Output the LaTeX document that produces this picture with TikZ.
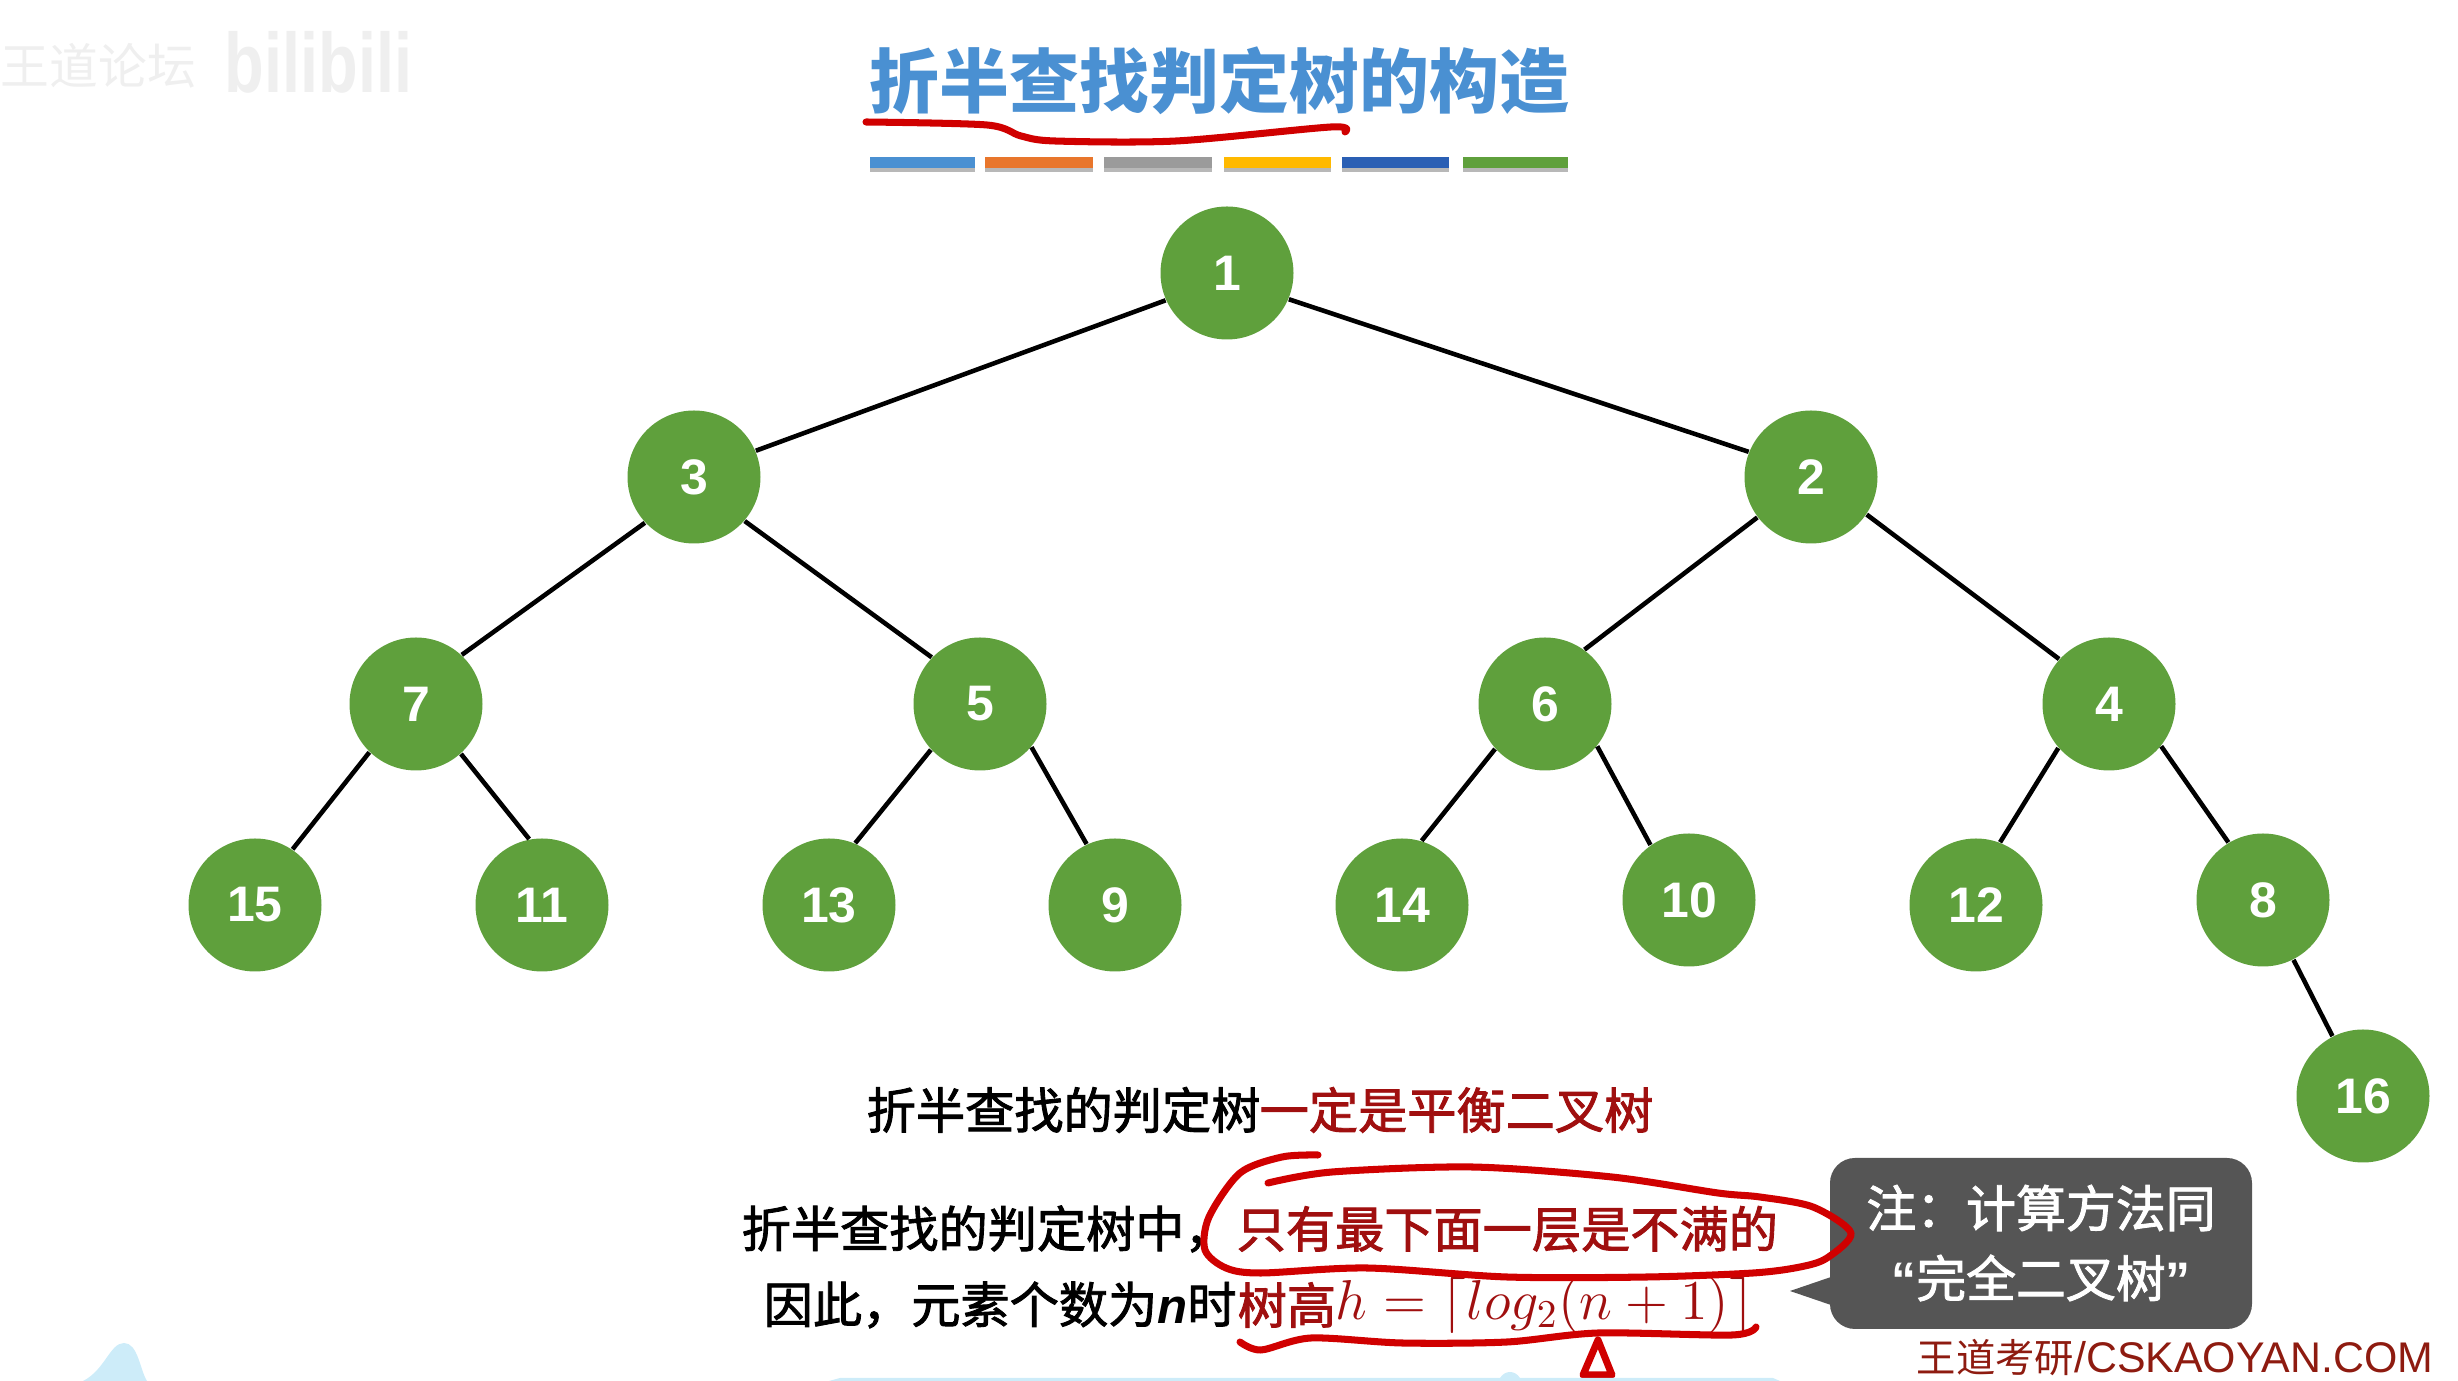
\documentclass[tikz,border=0pt]{standalone}
\usepackage{fix-cm}
\usepackage{amsmath}
\usepackage{fontspec}
\newfontfamily\cjk[FakeBold=1.8]{Noto Sans CJK SC}
\newfontfamily\cjkb{Noto Sans CJK SC}
\newfontfamily\latin{Liberation Sans}
\definecolor{treegreen}{HTML}{5FA03C}
\definecolor{titleblue}{HTML}{4A90D2}
\definecolor{barorange}{HTML}{E8762C}
\definecolor{bargray}{HTML}{9B9B9B}
\definecolor{baryellow}{HTML}{FFB900}
\definecolor{barblue}{HTML}{2A5FB4}
\definecolor{textred}{HTML}{A00F0F}
\definecolor{penred}{HTML}{D00000}
\definecolor{notegray}{HTML}{555555}
\definecolor{markred}{HTML}{8E1B10}
\definecolor{skyblue}{HTML}{CDECF9}
\definecolor{faintgray}{HTML}{EFEFEF}

\begin{document}
\begin{tikzpicture}
\useasboundingbox (0,0) rectangle (24.58,-13.81);
\begin{scope}
	\tikzstyle{every node}=[inner sep=0pt, align=center]
	\tikzstyle{elem}=[circle, fill=treegreen, text=white, minimum size=1.33cm, font=\latin\fontsize{14.2}{16}\selectfont\bfseries]
	\tikzstyle{link}=[line width=1.3pt, black]
	\tikzstyle{body}=[anchor=west, font=\cjk\fontsize{14}{16}\selectfont]
	\tikzstyle{pen}=[line width=2pt, penred, line cap=round, line join=round]

	% watermark
	\node[anchor=west, text=faintgray, font=\cjkb\fontsize{13.9}{16}\selectfont] (forum) at (0,-0.66) {王道论坛};
	\node[anchor=west, xscale=0.77, transform shape, text=faintgray, font=\latin\fontsize{24}{26}\selectfont\bfseries] (bili) at (2.24,-0.62) {bilibili};

	% title
	\node[anchor=west, text=titleblue, font=\cjkb\fontsize{19.9}{22}\selectfont\bfseries] (title) at (8.69,-0.81) {折半查找判定树的构造};
	\fill[black!28] (8.70,-1.62) rectangle (9.75,-1.72);
	\fill[black!28] (9.85,-1.62) rectangle (10.93,-1.72);
	\fill[black!28] (11.04,-1.62) rectangle (12.12,-1.72);
	\fill[black!28] (12.24,-1.62) rectangle (13.31,-1.72);
	\fill[black!28] (13.42,-1.62) rectangle (14.49,-1.72);
	\fill[black!28] (14.63,-1.62) rectangle (15.68,-1.72);
	\fill[color=titleblue] (8.70,-1.57) rectangle (9.75,-1.68);
	\fill[color=barorange] (9.85,-1.57) rectangle (10.93,-1.68);
	\fill[color=bargray] (11.04,-1.57) rectangle (12.12,-1.68);
	\fill[color=baryellow] (12.24,-1.57) rectangle (13.31,-1.68);
	\fill[color=barblue] (13.42,-1.57) rectangle (14.49,-1.68);
	\fill[color=treegreen] (14.63,-1.57) rectangle (15.68,-1.68);

	% tree
	\node[elem] (n1) at (12.27,-2.73) {1};
	\node[elem] (n3) at (6.94,-4.77) {3};
	\node[elem] (n2) at (18.11,-4.77) {2};
	\node[elem] (n7) at (4.16,-7.04) {7};
	\node[elem] (n5) at (9.80,-7.04) {5};
	\node[elem] (n6) at (15.45,-7.04) {6};
	\node[elem] (n4) at (21.09,-7.04) {4};
	\node[elem] (n15) at (2.55,-9.05) {15};
	\node[elem] (n11) at (5.42,-9.05) {11};
	\node[elem] (n13) at (8.29,-9.05) {13};
	\node[elem] (n9) at (11.15,-9.05) {9};
	\node[elem] (n14) at (14.02,-9.05) {14};
	\node[elem] (n10) at (16.89,-9.00) {10};
	\node[elem] (n12) at (19.76,-9.05) {12};
	\node[elem] (n8) at (22.63,-9.00) {8};
	\node[elem] (n16) at (23.63,-10.96) {16};

	\draw [link] (n1.204) -- (n3.23);
	\draw [link] (n1.-23) -- (n2.158);
	\draw [link] (n3.223) -- (n7.47);
	\draw [link] (n3.-41) -- (n5.136);
	\draw [link] (n2.217) -- (n6.54);
	\draw [link] (n2.-34) -- (n4.138);
	\draw [link] (n7.226) -- (n15.56);
	\draw [link] (n7.-48) -- (n11.101);
	\draw [link] (n5.223) -- (n13.67);
	\draw [link] (n5.-40) -- (n9.115);
	\draw [link] (n6.222) -- (n14.73);
	\draw [link] (n6.-39) -- (n10.125);
	\draw [link] (n4.221) -- (n12.69);
	\draw [link] (n4.-39) -- (n8.121);
	\draw [link] (n8) -- (n16);

	% text lines
	\node[body] (balA) at (8.66,-11.10) {折半查找的判定树};
	\node[body, text=textred] (balB) at (12.59,-11.10) {一定是平衡二叉树};
	\node[body] (lineA) at (7.41,-12.29) {折半查找的判定树中，};
	\node[body, text=textred] (lineB) at (12.36,-12.29) {只有最下面一层是不满的};
	\node[body] (hghA) at (7.63,-13.05) {因此，元素个数为{\latin\bfseries\itshape n}时};
	\node[body, text=textred] (hghB) at (12.37,-13.05) {树高};
	\node[anchor=west, text=textred, font=\fontsize{16}{18}\selectfont] (hghC) at (13.35,-13.05) {$h=\lceil log_2(n+1)\rceil$};

	% note
	\node[fill=notegray, rounded corners=0.25cm, minimum width=4.22cm, minimum height=1.71cm, text=white] (note) at (20.41,-12.435) {};
	\fill[notegray] (18.31,-12.77) -- (17.90,-12.91) -- (18.31,-13.05) -- cycle;
	\node[text=white, font=\cjk\fontsize{14.2}{16}\selectfont] (noteA) at (20.41,-12.08) {注：计算方法同};
	\node[text=white, font=\cjk\fontsize{14.2}{16}\selectfont] (noteB) at (20.41,-12.78) {{\latin\bfseries “}完全二叉树{\latin\bfseries ”}};
	\node[anchor=west, text=markred, font=\latin\fontsize{12.2}{14}\selectfont] (mark) at (19.16,-13.58) {{\cjkb\fontsize{11.2}{14}\selectfont 王道考研}/CSKAOYAN.COM};

	% pen marks
	\draw [pen] plot[smooth] coordinates {(8.66,-1.22) (9.87,-1.25) (10.21,-1.36) (10.55,-1.41) (11.76,-1.41) (13.31,-1.27) (13.45,-1.32)};
	\draw [pen] plot[smooth] coordinates {(13.18,-11.55) (12.82,-11.57) (12.40,-11.73) (12.09,-12.17) (12.05,-12.50) (12.26,-12.68) (12.61,-12.73) (13.67,-12.68) (15.07,-12.77) (16.47,-12.77) (17.53,-12.73) (18.00,-12.67) (18.27,-12.58) (18.51,-12.33) (18.13,-12.07) (17.60,-11.97) (17.18,-11.93) (16.12,-11.77) (14.72,-11.67) (13.32,-11.72) (12.68,-11.83)};
	\draw [pen] plot[smooth] coordinates {(12.40,-13.42) (12.61,-13.50) (13.11,-13.38) (14.02,-13.43) (15.07,-13.42) (15.98,-13.33) (17.32,-13.35) (17.56,-13.27)};
	\draw [pen] (15.98,-13.40) -- (15.83,-13.75) -- (16.12,-13.75) -- cycle;

	% water at the lower edge
	\fill[skyblue] (0.83,-13.81) .. controls (1.05,-13.70) and (1.10,-13.43) .. (1.24,-13.43) .. controls (1.38,-13.43) and (1.40,-13.70) .. (1.47,-13.81) -- cycle;
	\fill[skyblue] (8.29,-13.81) -- (8.40,-13.78) -- (15.00,-13.78) .. controls (15.05,-13.70) and (15.15,-13.70) .. (15.20,-13.78) -- (17.73,-13.78) -- (17.80,-13.81) -- cycle;
\end{scope}
\end{tikzpicture}
\end{document}
